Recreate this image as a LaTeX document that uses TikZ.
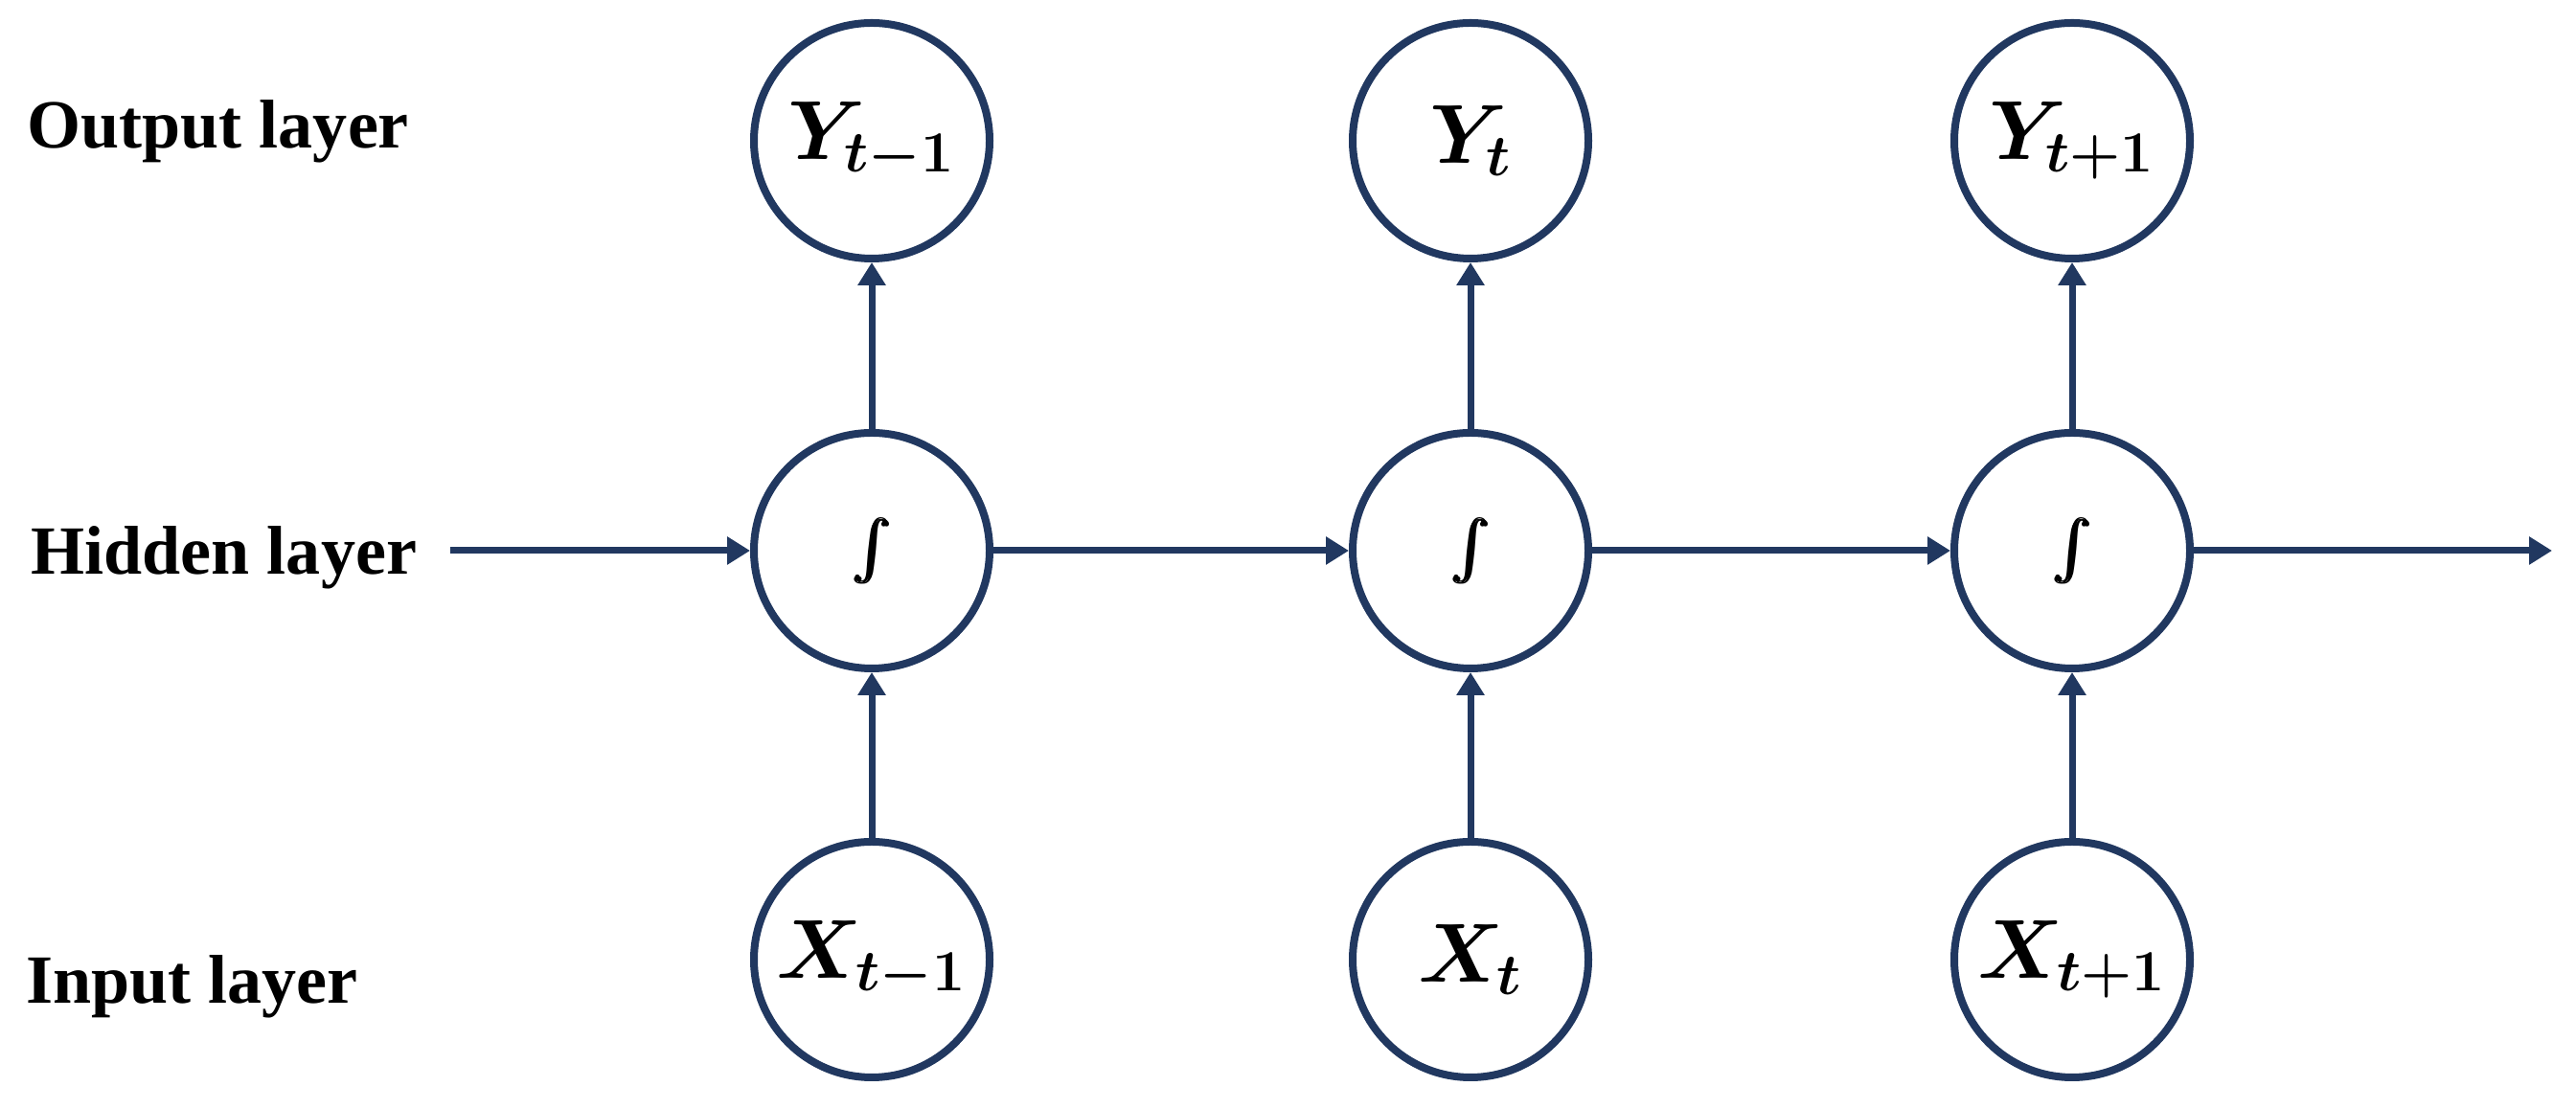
\documentclass[tikz,border=0pt]{standalone}
\usepackage[no-math]{fontspec}
\setmainfont{Liberation Serif}
\usepackage{exscale}
\usepackage{bm}
\usetikzlibrary{arrows.meta}
\definecolor{navy}{RGB}{33,56,96}
\begin{document}
\begin{tikzpicture}[x=1cm,y=1cm,
  unit/.style={circle, draw=navy, line width=0.08cm, minimum size=2.46cm, inner sep=0pt, font=\fontsize{23}{27}\selectfont},
  conn/.style={draw=navy, line width=0.07cm, -{Triangle[length=0.24cm,width=0.28cm]}},
  layerlabel/.style={anchor=base west, inner sep=0pt, font=\fontsize{20.5}{24}\selectfont\bfseries}]
\useasboundingbox (0,0) rectangle (26.89,11.58);
\fill[white] (0,0) rectangle (26.89,11.58);

% labels
\node[layerlabel] (lout) at (0.28,10.03) {Output layer};
\node[layerlabel] (lhid) at (0.32,5.58) {Hidden layer};
\node[layerlabel] (lin)  at (0.27,1.10) {Input layer};

% output units
\node[unit] (y1) at (9.10,10.11) {$\bm{Y_{t-1}}$};
\node[unit] (y2) at (15.35,10.11) {$\bm{Y_{t}}$};
\node[unit] (y3) at (21.63,10.11) {$\bm{Y_{t+1}}$};

% hidden units
\node[unit] (h1) at (9.10,5.83) {{\fontsize{19}{22}\selectfont$\bm{\int}$}};
\node[unit] (h2) at (15.35,5.83) {{\fontsize{19}{22}\selectfont$\bm{\int}$}};
\node[unit] (h3) at (21.63,5.83) {{\fontsize{19}{22}\selectfont$\bm{\int}$}};

% input units
\node[unit] (x1) at (9.10,1.56) {$\bm{X_{t-1}}$};
\node[unit] (x2) at (15.35,1.56) {$\bm{X_{t}}$};
\node[unit] (x3) at (21.63,1.56) {$\bm{X_{t+1}}$};

\coordinate (hin) at (4.70,5.83);
\coordinate (hout) at (26.64,5.83);

% connectors
\draw[conn] (hin) -- (h1.west);
\draw[conn] (h1) -- (h2);
\draw[conn] (h2) -- (h3);
\draw[conn] (h3.east) -- (hout);

\foreach \i in {1,2,3}{
  \draw[conn] (h\i) -- (y\i);
  \draw[conn] (x\i) -- (h\i);
}
\end{tikzpicture}
\end{document}
